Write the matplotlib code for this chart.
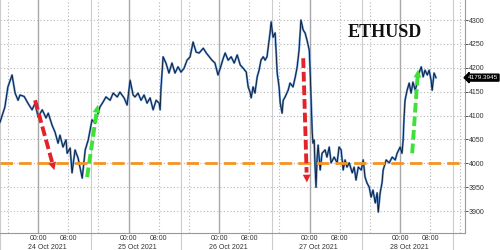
import numpy as np
import matplotlib.pyplot as plt

# ETHUSD, hours counted from 24 Oct 2021 00:00
hours = [-10.1, -8.8, -8.0, -6.9, -6.1, -5.3, -4.8, -3.7, -2.7, -1.6, -0.8, 0.0, 1.1, 2.1, 2.7,
         3.7, 4.5, 5.3, 5.8, 6.6, 7.4, 7.7, 8.5, 9.0, 9.8, 10.6, 11.1, 11.7, 12.5, 13.3,
         13.8, 14.3, 15.1, 15.9, 16.4, 17.2, 18.0, 19.1, 19.9, 21.0, 21.7, 22.8, 23.6, 24.4,
         25.2, 25.7, 26.5, 27.3, 28.1, 28.9, 29.7, 30.5, 31.3, 32.1, 32.35, 32.6, 33.15, 33.9,
         34.7, 35.5, 36.3, 37.1, 37.9, 38.7, 39.5, 40.3, 41.1, 41.9, 42.7, 43.8, 44.6, 45.4,
         46.1, 46.9, 47.7, 48.3, 49.1, 49.6, 50.4, 51.2, 52.0, 52.8, 53.6, 54.4, 55.2, 55.7,
         56.2, 56.5, 57.0, 57.5, 58.1, 58.6, 59.1, 59.7, 60.2, 60.7, 61.5, 61.8, 62.3, 62.85,
         63.1, 63.4, 63.9, 64.2, 64.7, 65.0, 65.5, 66.3, 66.8, 67.6, 68.2, 68.7, 69.2, 69.5,
         69.7, 70.3, 70.8, 71.3, 71.9, 72.1, 72.4, 72.7, 72.9, 73.2, 73.45, 73.7, 74.0, 74.25,
         74.8, 75.3, 76.1, 76.6, 77.2, 77.7, 78.5, 79.3, 79.8, 80.35, 80.9, 81.4, 81.9, 82.5,
         83.3, 83.8, 84.3, 84.9, 85.7, 86.2, 86.7, 87.2, 87.8, 88.3, 88.8, 89.4, 89.9, 90.2,
         90.7, 91.2, 91.5, 92.3, 93.1, 93.9, 94.7, 95.2, 96.0, 96.5, 96.8, 97.05, 97.3, 97.85,
         98.4, 98.9, 99.4, 100.0, 100.5, 101.0, 101.6, 102.1, 102.6, 103.2, 103.7, 104.2,
         104.5, 105.0, 105.5]
price = [4086, 4118, 4160, 4185, 4147, 4132, 4143, 4140, 4126, 4112, 4126, 4097, 4112, 4095, 4105,
         4080, 4065, 4042, 4059, 4034, 4049, 4021, 4032, 3980, 4028, 4011, 3992, 3969, 4028, 4049,
         4070, 4091, 4084, 4105, 4118, 4128, 4139, 4132, 4147, 4139, 4149, 4137, 4122, 4174,
         4143, 4139, 4147, 4132, 4143, 4126, 4137, 4112, 4132, 4126, 4112, 4158, 4223, 4210,
         4189, 4210, 4189, 4202, 4191, 4199, 4216, 4223, 4254, 4233, 4231, 4241, 4231, 4223,
         4216, 4210, 4185, 4199, 4220, 4231, 4216, 4223, 4210, 4227, 4206, 4199, 4191, 4160,
         4149, 4137, 4160, 4147, 4181, 4195, 4216, 4223, 4216, 4223, 4273, 4296, 4264, 4273,
         4237, 4189, 4160, 4126, 4105, 4132, 4139, 4153, 4168, 4160, 4181, 4202, 4237, 4273,
         4300, 4279, 4273, 4258, 4237, 4202, 4132, 4063, 4042, 4049, 3992, 3950, 4013, 4038,
         3986, 4021, 4028, 4013, 4034, 4001, 4013, 4001, 4034, 4028, 3986, 4007, 3992, 4001,
         3980, 3992, 3965, 3992, 3986, 4007, 3971, 3959, 3950, 3929, 3944, 3917, 3938, 3898,
         3938, 3959, 3986, 4007, 4001, 4013, 4007, 4021, 4034, 4021, 4049, 4097, 4132, 4153,
         4168, 4147, 4170, 4153, 4168, 4189, 4202, 4181, 4195, 4185, 4195, 4174,
         4153, 4189, 4179.3945]

last_price = 4179.3945
support = 4000
y_ticks = [3900, 3950, 4000, 4050, 4100, 4150, 4200, 4250, 4300]
days = ['24 Oct 2021', '25 Oct 2021', '26 Oct 2021', '27 Oct 2021', '28 Oct 2021']
red_arrows = [((-0.8, 4132), (4.5, 3980)), ((70.3, 4220), (71.3, 3954))]
green_arrows = [((13.0, 3971), (15.9, 4128)), ((99.2, 4021), (100.8, 4202))]

fig = plt.figure(figsize=(5, 2.5), dpi=100)
ax = fig.add_axes([0.0, 0.068, 0.93, 0.932])
ax.set_xlim(-10.1, 113.2)
ax.set_ylim(3854, 4342)

# grid
for y in y_ticks:
    ax.axhline(y, color='#b5b5b5', lw=0.8, ls=(0, (1, 2)), zorder=0)
for d in range(-1, 5):
    x0 = 24 * d
    if d >= 0:
        ax.axvline(x0, color='#a8a8a8', lw=1.0, zorder=0)
    ax.axvline(x0 + 8, color='#b5b5b5', lw=0.8, ls=(0, (1, 2)), zorder=0)
    ax.axvline(x0 + 16, color='#b5b5b5', lw=0.8, ls=(0, (1, 2)), zorder=0)
    sep = x0 + 13.9
    ax.plot([sep, sep], [-0.075, 1], color='#cccccc', lw=0.8,
            transform=ax.get_xaxis_transform(), clip_on=False, zorder=0)

# price line
ax.plot(hours, price, color='#5b8ed4', lw=1.5, zorder=2)
ax.plot(hours, price, color='#0c1624', lw=0.6, zorder=3)

# support line
ax.axhline(support, color='#f39422', lw=2, dashes=(4.5, 2.2), zorder=4)

# arrows
def arrow(start, end, color):
    (x1, y1), (x2, y2) = start, end
    xm = x1 + (x2 - x1) * 0.9
    ym = y1 + (y2 - y1) * 0.9
    ax.plot([x1, xm], [y1, ym], color=color, lw=2.8, dashes=(2.5, 1.0),
            solid_capstyle='butt', zorder=5)
    ax.annotate('', xy=end, xytext=(xm, ym),
                arrowprops=dict(arrowstyle='-|>', color=color, lw=0,
                                mutation_scale=14), zorder=5)

for s, e in red_arrows:
    arrow(s, e, '#e3232b')
for s, e in green_arrows:
    arrow(s, e, '#3fe03a')

ax.text(0.828, 0.86, 'ETHUSD', transform=ax.transAxes, ha='center', va='center',
        fontsize=13, fontweight='bold', family='Liberation Serif', color='#111111')

# axes styling
for side in ['top', 'left']:
    ax.spines[side].set_visible(False)
ax.spines['right'].set_color('#999999')
ax.spines['bottom'].set_color('#999999')
ax.yaxis.tick_right()
ax.set_yticks(y_ticks)
ax.set_yticklabels([str(v) for v in y_ticks])
ax.tick_params(axis='y', direction='out', length=2, width=0.6, pad=1,
               labelsize=5, labelcolor='#333333', color='#333333')
for lab in ax.get_yticklabels():
    lab.set_family('Liberation Sans')
ax.set_xticks([])

xt = ax.get_xaxis_transform()
for d, name in enumerate(days):
    x0 = 24 * d
    for h, lab in [(0, '00:00'), (8, '08:00')]:
        ax.text(x0 + h, -0.022, lab, transform=xt, ha='center', va='center',
                fontsize=5, family='Liberation Sans', color='#333333')
    ax.text(x0 + 2.4, -0.062, name, transform=xt, ha='center', va='center',
            fontsize=5, family='Liberation Sans', color='#333333')

# last price tag
ax.annotate(f'{last_price:.4f}', xy=(1.0, last_price), xycoords=('axes fraction', 'data'),
            xytext=(2, 0), textcoords='offset points', ha='left', va='center',
            fontsize=4.6, family='Liberation Sans', color='white',
            bbox=dict(boxstyle='larrow,pad=0.15', fc='black', ec='black'),
            annotation_clip=False)

fig.savefig('out.png', dpi=100)
